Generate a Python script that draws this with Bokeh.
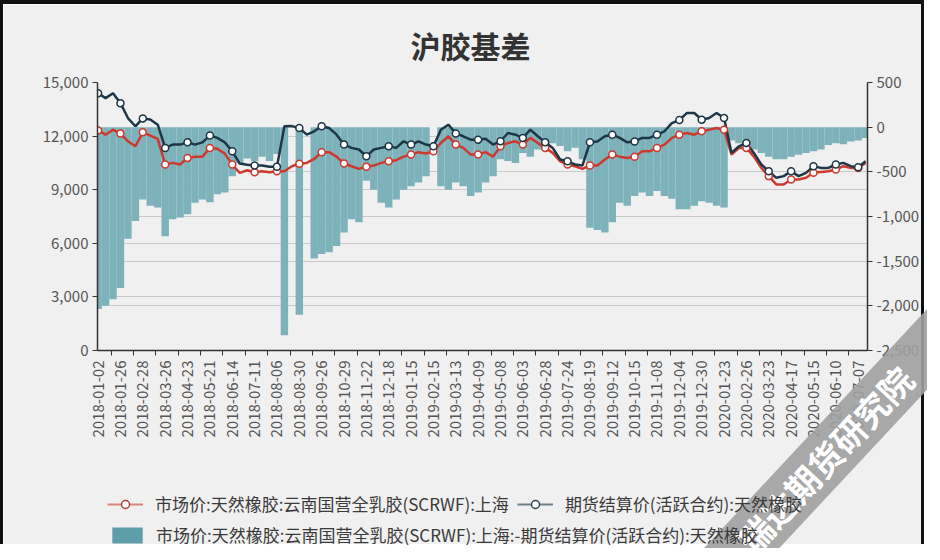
import math
from bokeh.plotting import figure
from bokeh.layouts import column
from bokeh.models import (ColumnDataSource, Range1d, LinearAxis, FixedTicker,
                          NumeralTickFormatter, Grid, Legend, LegendItem, Label)
from bokeh.embed import file_html
from bokeh.resources import INLINE

NAN = float("nan")

day_index = list(range(0, 620, 6))

market = [12320, 12080, 12360, 12140, 11710, 11430, 12210, 12030, 11840, 10410,
          10500, 10410, 10780, 10850, 10850, 11340, 11290, 11020, 10410, 9945,
          10090, 9980, 10035, 9980, 10035, 10035, 10315, 10450, 10500, 10720,
          11100, 11100, 10850, 10465, 10315, 10165, 10280, 10350, 10500, 10590,
          10650, 10850, 10965, 11100, 11030, 11150, 11615, 11990, 11525, 11340,
          10965, 10965, 11100, 10850, 11430, 11615, 11710, 11525, 11900, 11620,
          11340, 11060, 10590, 10410, 10315, 10165, 10355, 10355, 10690, 10965,
          10850, 10780, 10850, 11150, 11150, 11340, 11525, 11900, 12080, 12175,
          12080, 12270, 12360, 12450, 12360, 10965, 11340, 11340, 10850, 10220,
          9760, 9295, 9295, 9575, 9575, 9665, 9945, 9990, 10035, 10130,
          10315, 10220, 10220, 10500]

futures = [14400, 14125, 14400, 13845, 13010, 12550, 12990, 12930, 12640, 11340,
           11525, 11525, 11650, 11525, 11650, 12030, 11900, 11650, 11150, 10465,
           10400, 10355, 10355, 10280, 10280, 12550, 12560, 12450, 12080, 12270,
           12550, 12450, 12080, 11525, 11340, 11250, 10875, 11250, 11340, 11430,
           11340, 11710, 11525, 11710, 11525, 11430, 12360, 12640, 12150, 11990,
           11800, 11800, 11850, 11525, 11710, 12175, 12080, 11900, 12360, 11990,
           11650, 11340, 10690, 10590, 10410, 10355, 11650, 11700, 11990, 12080,
           11900, 11650, 11700, 11900, 11900, 12080, 12270, 12730, 12900, 13290,
           13290, 12920, 13010, 13290, 13010, 11060, 11430, 11620, 11060, 10410,
           10035, 9665, 9760, 10035, 9760, 9945, 10315, 10220, 10220, 10410,
           10500, 10315, 10260, 10590]

basis = [-2035, -2000, -1925, -1800, -1250, -1050, -810, -880, -900, -1220,
         -1030, -1010, -975, -845, -810, -840, -750, -730, -550, -400,
         -350, -380, -330, -380, -300, -2330, NAN, -2100, NAN, -1470,
         -1420, -1400, -1330, -1180, -1030, -1065, -600, -700, -845, -900,
         -810, -700, -660, -620, -550, NAN, -660, -700, -620, -660,
         -770, -730, -620, -550, -360, -380, -400, -290, -330, -250,
         -160, -180, -210, -270, -230, -360, -1125, -1150, -1180, -1065,
         -845, -880, -770, -730, -770, -715, -770, -800, -920, -920,
         -880, -830, -845, -880, -900, -150, -180, -200, -250, -290,
         -330, -360, -360, -330, -310, -290, -270, -250, -200, -180,
         -190, -160, -150, -120]

tick_pos = list(range(0, 620, 18))
tick_labels = ["2018-01-02", "2018-01-26", "2018-02-28", "2018-03-26", "2018-04-23",
               "2018-05-21", "2018-06-14", "2018-07-11", "2018-08-06", "2018-08-30",
               "2018-09-26", "2018-10-29", "2018-11-22", "2018-12-18", "2019-01-15",
               "2019-02-15", "2019-03-13", "2019-04-09", "2019-05-08", "2019-06-03",
               "2019-06-28", "2019-07-24", "2019-08-19", "2019-09-12", "2019-10-15",
               "2019-11-08", "2019-12-04", "2019-12-30", "2020-01-23", "2020-02-26",
               "2020-03-23", "2020-04-17", "2020-05-15", "2020-06-10", "2020-07-07"]

left_ticks = [0, 3000, 6000, 9000, 12000, 15000]
right_ticks = [-2500, -2000, -1500, -1000, -500, 0, 500]

name_market = "市场价:天然橡胶:云南国营全乳胶(SCRWF):上海"
name_futures = "期货结算价(活跃合约):天然橡胶"
name_basis = "市场价:天然橡胶:云南国营全乳胶(SCRWF):上海:-期货结算价(活跃合约):天然橡胶"
title_text = "沪胶基差"
watermark = "瑞达期货研究院"

# ---- style ----
FONT = "Noto Sans CJK SC"
BG = "#F0F0F0"
RED = "#CC3A2E"
NAVY = "#1E3746"
TEAL = "#7DB2BB"
GRID = "#CACACA"
AXIS = "#333333"
LABEL = "#555555"
W, H = 924, 544

p = figure(width=W, height=H, x_range=Range1d(-0.5, 619.5), y_range=Range1d(0, 15000),
           output_backend="svg", toolbar_location=None,
           min_border_left=94, min_border_right=W - 864, min_border_top=77,
           min_border_bottom=H - 346,
           background_fill_color=BG, border_fill_color=BG, outline_line_color=None)
p.styles = {"border-top": "4px solid #111111", "border-left": "3px solid #111111",
            "border-right": "3px solid #111111"}
p.extra_y_ranges = {"right": Range1d(-2500, 500)}

p.title.text = title_text
p.title.align = "left"
p.title.text_font = FONT
p.title.text_font_size = "30px"
p.title.text_font_style = "bold"
p.title.text_color = "#333333"
p.title.standoff = 32
p.title.offset = 313

# grids
p.xgrid.visible = False
p.ygrid.ticker = FixedTicker(ticks=left_ticks[1:])
p.ygrid.grid_line_color = GRID
rgrid = Grid(dimension=1, y_range_name="right",
             ticker=FixedTicker(ticks=[t for t in right_ticks if t not in (-2500, 0)]),
             grid_line_color=GRID)
p.add_layout(rgrid)

# axes
yl = p.yaxis[0]
yl.ticker = FixedTicker(ticks=left_ticks)
yl.formatter = NumeralTickFormatter(format="0,0")
yr = LinearAxis(y_range_name="right", ticker=FixedTicker(ticks=right_ticks),
                formatter=NumeralTickFormatter(format="0,0"))
p.add_layout(yr, "right")
for ax in (yl, yr):
    ax.axis_line_color = AXIS
    ax.axis_line_width = 1.5
    ax.major_tick_line_color = AXIS
    ax.major_tick_out = 5
    ax.major_tick_in = 0
    ax.minor_tick_line_color = None
    ax.major_label_text_font = FONT
    ax.major_label_text_font_size = "15px"
    ax.major_label_text_color = LABEL
    ax.major_label_standoff = 4

xa = p.xaxis[0]
xa.ticker = FixedTicker(ticks=tick_pos, minor_ticks=[10.5 + 18 * j for j in range(34)])
xa.major_label_overrides = {t: s for t, s in zip(tick_pos, tick_labels)}
xa.major_label_orientation = math.pi / 2
xa.major_label_text_font = FONT
xa.major_label_text_font_size = "15px"
xa.major_label_text_color = LABEL
xa.major_tick_line_color = None
xa.major_tick_out = 0
xa.major_tick_in = 0
xa.major_label_standoff = 5
xa.minor_tick_line_color = AXIS
xa.minor_tick_out = 5
xa.minor_tick_in = 0
xa.axis_line_color = AXIS
xa.axis_line_width = 1.5

# bars (basis, right axis)
bsrc = ColumnDataSource(dict(x=day_index, b=basis))
p.vbar(x="x", top=0, bottom="b", width=6, source=bsrc, y_range_name="right",
       fill_color=TEAL, line_color=None)

# lines
msrc = ColumnDataSource(dict(x=day_index, y=market))
fsrc = ColumnDataSource(dict(x=day_index, y=futures))
p.line("x", "y", source=msrc, line_color=RED, line_width=2.5)
p.line("x", "y", source=fsrc, line_color=NAVY, line_width=2.5)
p.scatter(day_index[::3], market[::3], size=7, fill_color="white", line_color=RED, line_width=1.5)
p.scatter(day_index[::3], futures[::3], size=7, fill_color="white", line_color=NAVY, line_width=1.5)

# ---- transparent overlay (pixel coordinates) for legend and watermark ----
ov = figure(width=W, height=H, x_range=Range1d(0, W), y_range=Range1d(0, H),
            output_backend="svg", toolbar_location=None,
            x_axis_location=None, y_axis_location=None,
            min_border=0, background_fill_alpha=0, border_fill_alpha=0,
            outline_line_color=None)
ov.grid.visible = False
ov.styles = {"position": "absolute", "left": "3px", "top": "4px", "pointer-events": "none"}
for fig in (p, ov):
    try:
        fig.frame_align = False
    except Exception:
        pass

# legend-only glyphs, kept outside the visible range
off = [-100]
lm_line = ov.line(x=off, y=off, line_color="#D9837B", line_width=2)
lm_dot = ov.scatter(x=off, y=off, size=13, fill_color="white", line_color="#A8443A", line_width=1.5)
lf_line = ov.line(x=off, y=off, line_color="#6D7F89", line_width=2)
lf_dot = ov.scatter(x=off, y=off, size=13, fill_color="white", line_color="#2E4654", line_width=1.5)
lb_bar = ov.vbar(x=off, top=off, width=1, fill_color="#5E9EA8", line_color=None)

common = dict(label_text_font=FONT, label_text_font_size="17px", label_text_color="#3A3A3A",
              padding=0, margin=0, border_line_color=None, background_fill_alpha=0,
              glyph_height=20)
legA = Legend(items=[LegendItem(label=name_market, renderers=[lm_line, lm_dot]),
                     LegendItem(label=name_futures, renderers=[lf_line, lf_dot])],
              orientation="horizontal", location=(104, 32), glyph_width=36,
              label_standoff=12, spacing=8, **common)
legB = Legend(items=[LegendItem(label=name_basis, renderers=[lb_bar])],
              orientation="horizontal", location=(105, 1), glyph_width=38,
              label_standoff=10, **common)
ov.add_layout(legA)
ov.add_layout(legB)

wm = Label(x=818, y=86, text=watermark, angle=47, angle_units="deg",
           text_align="center", text_baseline="middle", text_font=FONT,
           text_font_size="34px", text_font_style="bold", text_color="white",
           background_fill_color="#A0A0A0", background_fill_alpha=0.9,
           padding={"left": 70, "right": 60, "top": 3, "bottom": 3})
ov.add_layout(wm)

layout = column(p, ov, styles={"position": "relative"})

open("out.html", "w").write(file_html(layout, INLINE))
